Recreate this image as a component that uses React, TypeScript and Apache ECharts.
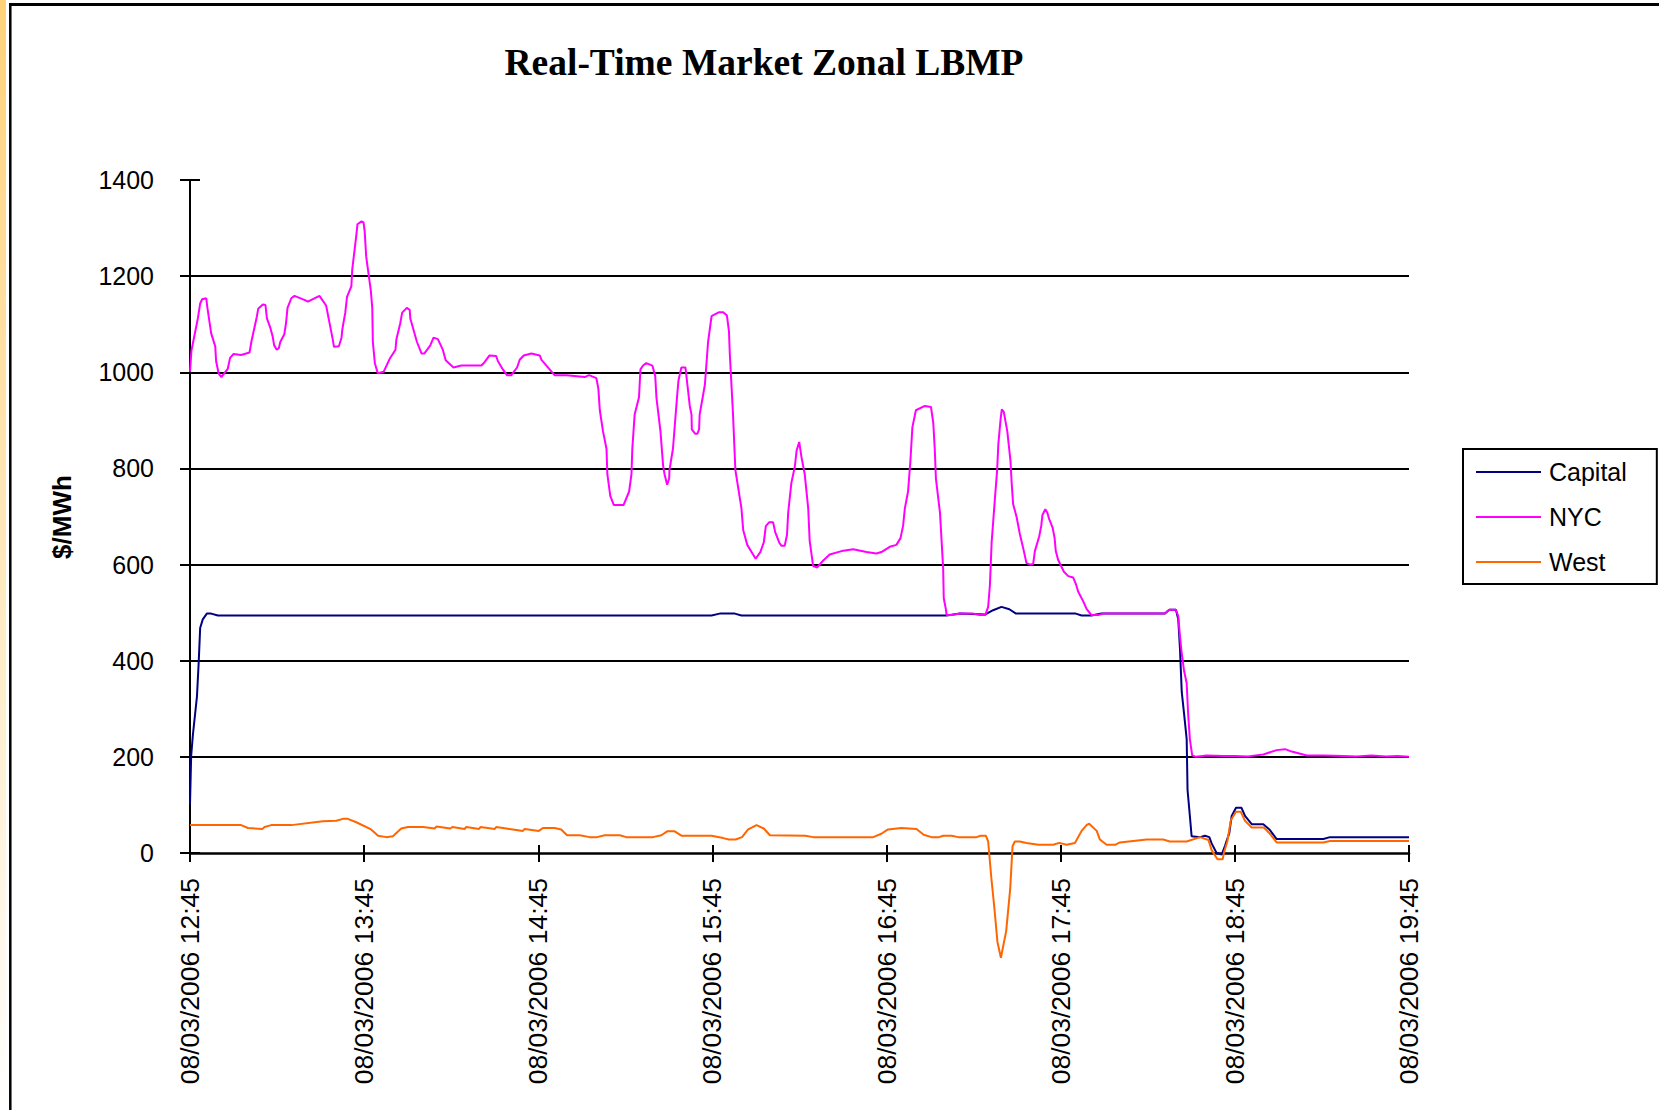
import React, { useEffect, useRef } from "react";
import * as echarts from "echarts";

// Minutes after 08/03/2006 12:45 and $/MWh values
const capitalTimes = [0, 0.4, 1.0, 2.4, 3.0, 3.5, 4.4, 5.8, 7.3, 9.6, 179.7, 182.5, 187.7, 190.0, 260.7, 265.3, 273.9, 276.7, 279.6, 282.3, 284.6, 305.2, 307.2, 310.6, 314.0, 335.9, 337.4, 339.7, 340.5, 341.1, 341.7, 342.5, 343.4, 343.7, 344.5, 345.1, 348.0, 349.7, 351.2, 352.0, 353.7, 355.5, 356.6, 358.1, 358.9, 360.4, 362.3, 363.5, 365.8, 369.8, 371.9, 374.4, 390.5, 392.8, 420];
const capitalValues = [101, 202, 246, 326, 397, 468, 486, 498, 498, 494, 494, 498, 498, 494, 494, 498, 496, 505, 512, 507, 498, 498, 494, 494, 498, 498, 506, 506, 486, 424, 335, 290, 237, 131, 77, 35, 33, 36, 33, 20, 0, -3, 15, 42, 77, 94, 94, 77, 60, 60, 49, 29, 29, 33, 33];

const nycTimes = [0, 0.5, 2.7, 3.5, 4.2, 5.6, 6.0, 7.3, 8.7, 9.0, 9.9, 10.8, 13.0, 13.8, 15.0, 17.6, 20.5, 21.2, 23.0, 23.5, 25.1, 26.0, 26.5, 27.6, 28.5, 29.0, 29.9, 30.6, 31.1, 32.5, 33.1, 33.6, 34.9, 36.0, 40.0, 40.6, 44.6, 46.9, 47.9, 49.2, 49.6, 51.3, 52.2, 52.5, 53.5, 54.1, 55.6, 55.9, 57.3, 57.7, 59.1, 59.8, 60.2, 60.7, 62.3, 62.8, 63.0, 63.7, 64.7, 66.7, 68.8, 70.8, 71.1, 72.4, 73.1, 74.7, 75.7, 75.9, 78.2, 79.8, 80.7, 82.8, 83.9, 85.4, 87.1, 88.1, 90.8, 93.5, 100.4, 101.5, 103.2, 105.5, 106.1, 107.8, 109.2, 110.7, 112.7, 113.6, 115.0, 117.6, 120.5, 121.1, 122.8, 125.6, 129.7, 136.0, 137.5, 140.0, 140.7, 141.2, 142.3, 143.5, 143.8, 144.8, 146.0, 149.4, 151.3, 152.1, 152.4, 153.2, 154.7, 155.2, 156.1, 157.2, 159.3, 160.3, 160.7, 162.1, 163.0, 163.5, 164.4, 165.1, 165.2, 166.4, 167.8, 168.3, 169.3, 170.7, 172.2, 172.8, 172.9, 174.1, 174.8, 175.4, 175.6, 177.4, 178.5, 179.7, 182.3, 183.7, 185.0, 185.7, 186.0, 187.1, 187.9, 190.0, 190.6, 192.0, 194.0, 194.9, 196.5, 197.7, 198.4, 199.5, 200.9, 201.6, 203.0, 203.8, 204.9, 205.7, 206.1, 207.2, 208.4, 209.0, 209.9, 210.7, 211.8, 213.0, 213.5, 214.7, 216.1, 218.1, 220.4, 224.5, 228.5, 233.1, 236.5, 238.2, 241.1, 243.4, 244.8, 245.7, 246.3, 247.4, 248.2, 248.9, 250.1, 253.2, 255.3, 256.1, 256.6, 257.0, 258.4, 259.5, 259.7, 260.4, 260.7, 262.4, 265.3, 269.9, 272.1, 274.0, 275.0, 275.6, 276.2, 277.3, 278.1, 278.5, 279.3, 279.7, 280.4, 281.6, 282.7, 283.1, 283.6, 284.8, 285.9, 287.3, 288.2, 289.6, 290.5, 291.1, 292.6, 293.3, 293.7, 294.7, 295.4, 296.0, 297.2, 297.9, 298.3, 299.1, 301.1, 302.6, 304.3, 305.2, 306.0, 307.8, 308.9, 310.6, 312.9, 314.7, 335.9, 337.4, 339.7, 340.5, 341.1, 341.7, 342.5, 343.4, 343.9, 344.5, 345.3, 346.6, 350.3, 356.0, 360.0, 364.6, 369.8, 374.4, 377.3, 379.6, 384.8, 390.5, 397.4, 402, 407, 412, 416, 420];
const nycValues = [1001, 1045, 1112, 1143, 1152, 1154, 1134, 1081, 1054, 1023, 997, 990, 1007, 1030, 1038, 1036, 1041, 1065, 1115, 1132, 1141, 1140, 1112, 1094, 1074, 1056, 1047, 1050, 1063, 1079, 1103, 1134, 1154, 1159, 1149, 1147, 1159, 1139, 1108, 1068, 1053, 1054, 1072, 1090, 1124, 1157, 1179, 1214, 1285, 1308, 1314, 1312, 1292, 1241, 1170, 1134, 1063, 1019, 998, 1001, 1028, 1047, 1068, 1101, 1124, 1134, 1130, 1112, 1063, 1039, 1039, 1056, 1072, 1069, 1047, 1025, 1010, 1014, 1014, 1021, 1035, 1034, 1023, 1006, 994, 994, 1010, 1026, 1035, 1039, 1035, 1026, 1014, 994, 994, 990, 994, 988, 966, 921, 877, 841, 788, 743, 724, 724, 752, 788, 841, 912, 948, 1006, 1014, 1019, 1014, 992, 948, 877, 806, 788, 766, 779, 797, 841, 948, 983, 1010, 1010, 930, 912, 881, 872, 872, 881, 912, 974, 1063, 1117, 1125, 1125, 1118, 1085, 1037, 912, 797, 717, 672, 641, 621, 612, 626, 646, 680, 688, 688, 668, 646, 639, 639, 662, 708, 770, 804, 837, 855, 823, 788, 717, 650, 597, 594, 608, 621, 628, 632, 626, 623, 626, 637, 641, 655, 681, 717, 752, 815, 886, 921, 930, 928, 894, 841, 779, 708, 592, 530, 508, 495, 495, 498, 498, 495, 495, 512, 557, 646, 735, 797, 850, 903, 923, 917, 877, 815, 770, 726, 699, 664, 628, 603, 600, 601, 628, 659, 681, 703, 715, 708, 695, 677, 655, 628, 610, 585, 576, 573, 560, 544, 523, 508, 495, 495, 498, 498, 506, 506, 493, 450, 415, 379, 353, 290, 237, 203, 200, 203, 202, 202, 201, 205, 214, 216, 211, 203, 203, 202, 201, 203, 201, 202, 200];

const westTimes = [0, 17.6, 20.0, 24.9, 25.7, 28.0, 34.9, 45.8, 50.4, 52.7, 54.4, 57.3, 62.4, 64.8, 67.6, 69.9, 72.8, 75.1, 80.3, 84.3, 84.9, 89.7, 90.4, 94.6, 95.2, 99.6, 100.1, 105.0, 105.5, 110.1, 114.7, 115.3, 120.2, 121.6, 125.6, 127.9, 129.9, 134.3, 137.7, 140.2, 142.9, 148.1, 150.3, 159.5, 162.4, 164.4, 167.0, 169.3, 179.7, 183.7, 185.7, 188.0, 190.2, 192.3, 195.2, 197.7, 199.8, 212.0, 214.7, 235.4, 238.2, 240.5, 245.1, 250.3, 252.8, 255.5, 258.1, 259.5, 262.4, 264.7, 271.0, 272.4, 274.2, 275.0, 276.1, 277.2, 278.2, 279.4, 280.1, 281.2, 282.6, 283.4, 284.2, 285.9, 288.2, 292.3, 297.4, 299.5, 300.9, 302.0, 304.9, 307.2, 308.9, 309.8, 312.4, 313.5, 315.8, 318.7, 320.4, 329.6, 335.3, 337.6, 343.4, 348.0, 350.9, 352.0, 354.0, 355.8, 356.3, 357.4, 358.6, 360.4, 362.0, 363.5, 365.8, 370.0, 372.1, 374.4, 390.5, 392.8, 420];
const westValues = [58, 58, 52, 50, 54, 58, 58, 66, 67, 71, 71, 64, 49, 36, 33, 35, 51, 54, 54, 51, 55, 51, 54, 50, 54, 50, 54, 50, 54, 50, 46, 50, 46, 52, 52, 49, 37, 37, 33, 33, 37, 37, 33, 33, 37, 45, 45, 36, 36, 31, 28, 28, 33, 49, 58, 51, 37, 36, 33, 33, 40, 49, 52, 50, 38, 33, 33, 36, 36, 33, 33, 36, 36, 24, -52, -118, -185, -218, -196, -163, -74, 14, 24, 24, 21, 17, 17, 21, 19, 17, 21, 46, 58, 61, 46, 28, 17, 17, 22, 28, 28, 24, 24, 33, 27, 6, -13, -13, 2, 24, 68, 86, 86, 67, 53, 53, 40, 22, 22, 25, 25];

const seriesNames = ["Capital", "NYC", "West"];
const seriesColors = ["#000080", "#FF00FF", "#FF6600"];
const yTicks = [0, 200, 400, 600, 800, 1000, 1200, 1400];
const xTickMinutes = [0, 60, 120, 180, 240, 300, 360, 420];
const dateText = "08/03/2006";
const startMinuteOfDay = 12 * 60 + 45;
const titleText = "Real-Time Market Zonal LBMP";
const yAxisTitle = "$/MWh";

const SANS = '"Liberation Sans", Arial, sans-serif';
const SERIF = '"Liberation Serif", "Times New Roman", serif';

function timeLabel(m: number): string {
  const total = startMinuteOfDay + Math.round(m);
  const h = Math.floor(total / 60);
  const mm = total % 60;
  return `${dateText} ${h}:${String(mm).padStart(2, "0")}`;
}

function pairs(t: number[], v: number[]) {
  return t.map((x, i) => [x, v[i]]);
}

export default function App() {
  const ref = useRef<HTMLDivElement>(null);
  useEffect(() => {
    document.body.style.margin = "0";
    if (!ref.current) return;
    const chart = echarts.init(ref.current, null, { renderer: "svg" });
    const xMin = xTickMinutes[0];
    const xMax = xTickMinutes[xTickMinutes.length - 1];
    const yMin = yTicks[0];
    const yMax = yTicks[yTicks.length - 1];
    const seriesData = [
      pairs(capitalTimes, capitalValues),
      pairs(nycTimes, nycValues),
      pairs(westTimes, westValues),
    ];
    chart.setOption({
      animation: false,
      backgroundColor: "#ffffff",
      grid: { left: 190, right: 250, top: 180, bottom: 257, containLabel: false },
      legend: {
        orient: "vertical",
        left: 1463,
        top: 449,
        padding: [9, 30, 8, 13],
        icon: "rect",
        itemWidth: 65,
        itemHeight: 2,
        itemGap: 17,
        borderColor: "#000",
        borderWidth: 2,
        textStyle: { fontSize: 25, fontFamily: SANS, color: "#000", lineHeight: 28, padding: [0, 0, 0, 3] },
        data: seriesNames,
      },
      xAxis: [
        {
          type: "value",
          min: xMin,
          max: xMax,
          interval: 60,
          position: "bottom",
          axisLine: { onZero: false, lineStyle: { color: "#000", width: 2.5 } },
          axisTick: { show: true, length: 9, lineStyle: { color: "#000", width: 2 } },
          axisLabel: {
            rotate: 90,
            margin: 25,
            fontSize: 26.5,
            fontFamily: SANS,
            color: "#000",
            formatter: (v: number) => timeLabel(v),
          },
          splitLine: { show: false },
        },
        {
          type: "value",
          min: xMin,
          max: xMax,
          interval: 60,
          position: "bottom",
          axisLine: { show: false },
          axisTick: { show: true, inside: true, length: 8, lineStyle: { color: "#000", width: 2 } },
          axisLabel: { show: false },
          splitLine: { show: false },
        },
      ],
      yAxis: [
        {
          type: "value",
          min: yMin,
          max: yMax,
          interval: 200,
          position: "left",
          axisLine: { show: true, lineStyle: { color: "#000", width: 2 } },
          axisTick: { show: true, length: 10, lineStyle: { color: "#000", width: 2 } },
          axisLabel: {
            margin: 36,
            fontSize: 25,
            fontFamily: SANS,
            color: "#000",
            formatter: (v: number) => String(v),
          },
          splitLine: { show: true, showMinLine: false, showMaxLine: false, lineStyle: { color: "#000", width: 1.8 } },
        },
        {
          type: "value",
          min: yMin,
          max: yMax,
          interval: 200,
          position: "left",
          axisLine: { show: false },
          axisTick: { show: true, inside: true, length: 10, lineStyle: { color: "#000", width: 2 } },
          axisLabel: { show: false },
          splitLine: { show: false },
        },
      ],
      series: seriesNames.map((name, i) => ({
        name,
        type: "line",
        xAxisIndex: 0,
        yAxisIndex: 0,
        data: seriesData[i],
        symbol: "none",
        showSymbol: false,
        clip: false,
        smooth: false,
        lineStyle: { color: seriesColors[i], width: 2 },
        itemStyle: { color: seriesColors[i] },
        z: 3 + i,
      })),
      graphic: [
        {
          type: "rect",
          shape: { x: 0, y: 0, width: 6, height: 1110 },
          style: {
            fill: new echarts.graphic.LinearGradient(0, 0, 0, 1, [
              { offset: 0, color: "#FFD27A" },
              { offset: 1, color: "#FFFFFF" },
            ]),
          },
          silent: true,
        },
        {
          type: "line",
          shape: { x1: 10.3, y1: 3, x2: 10.3, y2: 1110 },
          style: { stroke: "#000", lineWidth: 2.5 },
          silent: true,
        },
        {
          type: "line",
          shape: { x1: 9, y1: 4.5, x2: 1659, y2: 4.5 },
          style: { stroke: "#000", lineWidth: 3 },
          silent: true,
        },
        {
          type: "text",
          x: 764,
          y: 62,
          style: {
            text: titleText,
            font: `bold 37.5px ${SERIF}`,
            fill: "#000",
            textAlign: "center",
            textVerticalAlign: "middle",
          },
          silent: true,
        },
        {
          type: "text",
          x: 62,
          y: 517,
          rotation: Math.PI / 2,
          style: {
            text: yAxisTitle,
            font: `bold 26px ${SANS}`,
            fill: "#000",
            textAlign: "center",
            textVerticalAlign: "middle",
          },
          silent: true,
        },
      ],
    });
    return () => chart.dispose();
  }, []);
  return <div ref={ref} style={{ width: 1659, height: 1110 }} />;
}
